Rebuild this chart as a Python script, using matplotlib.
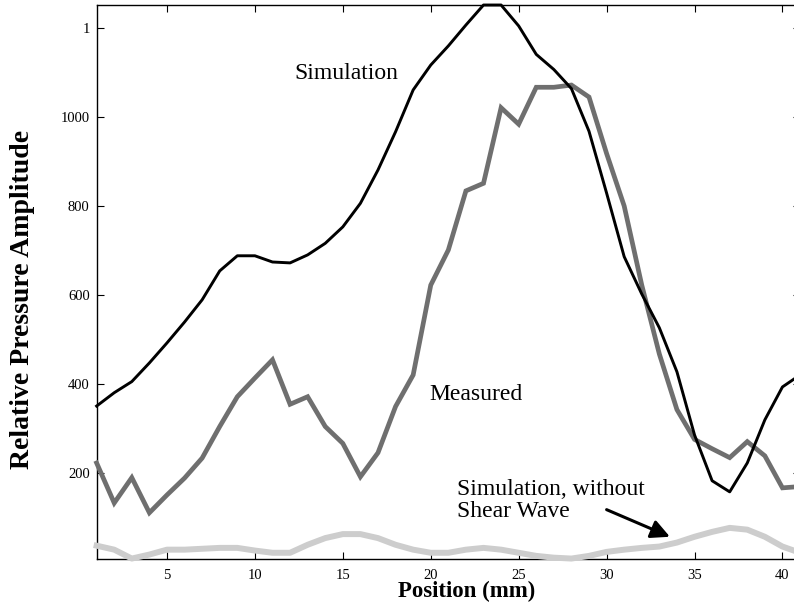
import matplotlib
matplotlib.use('Agg')
import matplotlib.pyplot as plt
import numpy as np

plt.rcParams['font.family'] = ['Liberation Serif', 'DejaVu Serif']

# position (mm)
position = np.arange(1, 42)

# relative pressure amplitude
simulation = [350, 380, 405, 447, 492, 539, 589, 654, 688, 688,
              674, 672, 690, 716, 753, 806, 881, 967, 1061, 1117,
              1160, 1207, 1252, 1252, 1205, 1141, 1107, 1064, 968, 829,
              686, 602, 526, 427, 285, 182, 157, 222, 319, 393,
              420]
measured = [222, 132, 189, 110, 150, 188, 233, 304, 371, 413,
            454, 354, 371, 304, 266, 191, 245, 349, 420, 622,
            701, 834, 851, 1021, 984, 1067, 1067, 1072, 1045, 918,
            800, 622, 467, 342, 275, 254, 234, 270, 238, 166,
            169]
no_shear = [36, 27, 7, 16, 27, 27, 29, 31, 31, 25,
            20, 20, 38, 53, 62, 62, 53, 38, 27, 20,
            20, 27, 31, 27, 20, 13, 9, 7, 13, 22,
            27, 31, 34, 43, 56, 67, 76, 72, 56, 34,
            20]

xticks = [5, 10, 15, 20, 25, 30, 35, 40]
yticks = [200, 400, 600, 800, 1000, 1200]
ytick_labels = ['200', '400', '600', '800', '1000', '1']

fig = plt.figure(figsize=(7.94, 6.12), dpi=100)
ax = fig.add_axes([0.1217, 0.0866, 0.8859, 0.9052])

ax.plot(position, no_shear, color='#cdcdcd', linewidth=4.3, zorder=3,
        clip_on=False, solid_joinstyle='round')
ax.plot(position, measured, color='#6f6f6f', linewidth=3.4, zorder=4,
        clip_on=False, solid_joinstyle='miter')
ax.plot(position, simulation, color='black', linewidth=2.1, zorder=5,
        clip_on=False)

# axis tight like the original
all_vals = simulation + measured + no_shear
ax.set_xlim(1, 41)
ax.set_ylim(min(all_vals) - 1, max(all_vals))

ax.set_xticks(xticks)
ax.set_yticks(yticks)
ax.set_yticklabels(ytick_labels)
ax.tick_params(direction='in', length=5, width=0.8, labelsize=10.5,
               top=True, right=True)
ax.tick_params(axis='x', pad=7)
ax.tick_params(axis='y', pad=5)
for s in ax.spines.values():
    s.set_linewidth(1.0)

ax.text(12.27, 1099, 'Simulation', fontsize=17, va='center', ha='left')
ax.text(19.94, 375, 'Measured', fontsize=17, va='center', ha='left')
ax.text(21.48, 137, 'Simulation, without\nShear Wave', fontsize=17,
        va='center', ha='left', linespacing=1.05)
ax.annotate('', xy=(33.6, 56), xytext=(30.0, 117),
            arrowprops=dict(arrowstyle='-|>', color='black', lw=2.2,
                            mutation_scale=28, shrinkA=0, shrinkB=0))

fig.text(0.588, 0.034, 'Position (mm)', fontsize=16.5, fontweight='bold',
         ha='center', va='center')
fig.text(0.028, 0.51, 'Relative Pressure Amplitude', fontsize=20,
         fontweight='bold', rotation=90, ha='center', va='center')

fig.savefig('out.png', dpi=100)
